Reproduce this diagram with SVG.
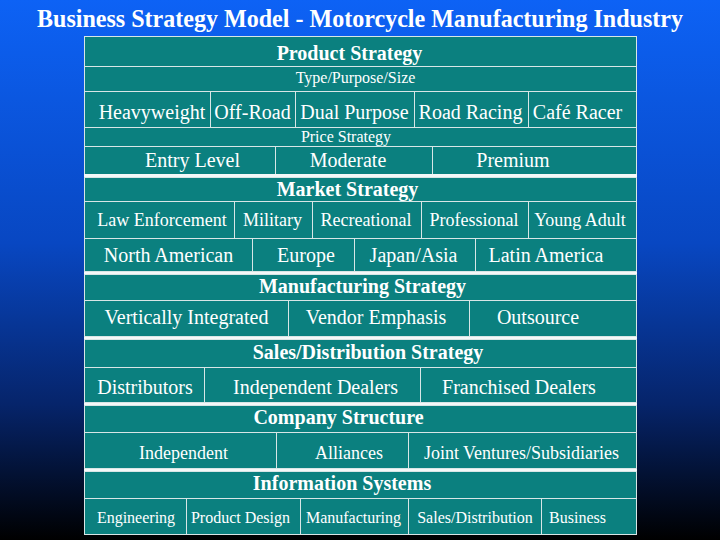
<svg xmlns="http://www.w3.org/2000/svg" width="720" height="540" viewBox="0 0 720 540">
<defs>
<linearGradient id="bg" x1="0" y1="0" x2="0" y2="1">
<stop offset="0" stop-color="#0d62f5"/>
<stop offset="0.45" stop-color="#0847c2"/>
<stop offset="0.75" stop-color="#06246a"/>
<stop offset="1" stop-color="#000000"/>
</linearGradient>
<style>
.c{fill:#0b807f;stroke:#d8e6e6;stroke-width:1}
.sep{fill:#f4f8f8}
text{font-family:"Liberation Serif","Times New Roman",serif;fill:#ffffff;text-anchor:middle}
.h{font-weight:bold;font-size:20px}
.t{font-size:20px}
.m{font-size:18px}
.s{font-size:16px}
.title{font-weight:bold;font-size:25px}
</style>
</defs>
<rect x="0" y="0" width="720" height="540" fill="url(#bg)"/>
<text class="title" x="360" y="27" textLength="646" lengthAdjust="spacingAndGlyphs">Business Strategy Model - Motorcycle Manufacturing Industry</text>

<g id="product-strategy">
<rect class="c" x="84.5" y="36.5" width="552" height="30"/>
<text class="h" x="349.5" y="60">Product Strategy</text>
<rect class="c" x="84.5" y="66.5" width="552" height="25"/>
<text class="s" x="355.5" y="83" font-size="15">Type/Purpose/Size</text>
<rect class="c" x="84.5" y="91.5" width="126" height="36"/>
<rect class="c" x="210.5" y="91.5" width="85" height="36"/>
<rect class="c" x="295.5" y="91.5" width="119" height="36"/>
<rect class="c" x="414.5" y="91.5" width="114" height="36"/>
<rect class="c" x="528.5" y="91.5" width="108" height="36"/>
<text class="t" x="152" y="119">Heavyweight</text>
<text class="t" x="252.5" y="119">Off-Road</text>
<text class="t" x="354.5" y="119">Dual Purpose</text>
<text class="t" x="470.5" y="119">Road Racing</text>
<text class="t" x="577.5" y="119">Café Racer</text>
<rect class="c" x="84.5" y="127.5" width="552" height="19"/>
<text class="s" x="346" y="142">Price Strategy</text>
<rect class="c" x="84.5" y="146.5" width="191" height="28"/>
<rect class="c" x="275.5" y="146.5" width="157" height="28"/>
<rect class="c" x="432.5" y="146.5" width="204" height="28"/>
<text class="t" x="192.5" y="166.5">Entry Level</text>
<text class="t" x="348" y="166.5">Moderate</text>
<text class="t" x="513" y="166.5">Premium</text>
</g>

<g id="connectors">
<rect class="sep" x="84" y="174" width="553" height="3"/>
<rect class="sep" x="84" y="271" width="553" height="3"/>
<rect class="sep" x="84" y="336" width="553" height="3"/>
<rect class="sep" x="84" y="402" width="553" height="3"/>
<rect class="sep" x="84" y="468" width="553" height="3"/>
</g>

<g id="market-strategy">
<rect class="c" x="84.5" y="177.5" width="552" height="24"/>
<text class="h" x="347.5" y="196">Market Strategy</text>
<rect class="c" x="84.5" y="201.5" width="150" height="37"/>
<rect class="c" x="234.5" y="201.5" width="78" height="37"/>
<rect class="c" x="312.5" y="201.5" width="109" height="37"/>
<rect class="c" x="421.5" y="201.5" width="107" height="37"/>
<rect class="c" x="528.5" y="201.5" width="108" height="37"/>
<text class="m" x="162" y="226">Law Enforcement</text>
<text class="m" x="272.5" y="226">Military</text>
<text class="m" x="366" y="226">Recreational</text>
<text class="m" x="474" y="226">Professional</text>
<text class="m" x="580" y="226">Young Adult</text>
<rect class="c" x="84.5" y="238.5" width="168" height="33"/>
<rect class="c" x="252.5" y="238.5" width="102" height="33"/>
<rect class="c" x="354.5" y="238.5" width="121" height="33"/>
<rect class="c" x="475.5" y="238.5" width="161" height="33"/>
<text class="t" x="168.5" y="261.5">North American</text>
<text class="t" x="306" y="261.5">Europe</text>
<text class="t" x="413.5" y="261.5">Japan/Asia</text>
<text class="t" x="546" y="261.5">Latin America</text>
</g>

<g id="manufacturing-strategy">
<rect class="c" x="84.5" y="274.5" width="552" height="26"/>
<text class="h" x="362.5" y="292.5">Manufacturing Strategy</text>
<rect class="c" x="84.5" y="300.5" width="204" height="36"/>
<rect class="c" x="288.5" y="300.5" width="181" height="36"/>
<rect class="c" x="469.5" y="300.5" width="167" height="36"/>
<text class="t" x="186.5" y="323.5">Vertically Integrated</text>
<text class="t" x="376" y="323.5">Vendor Emphasis</text>
<text class="t" x="538" y="323.5">Outsource</text>
</g>

<g id="sales-distribution-strategy">
<rect class="c" x="84.5" y="339.5" width="552" height="28"/>
<text class="h" x="368" y="358.5">Sales/Distribution Strategy</text>
<rect class="c" x="84.5" y="367.5" width="120" height="35"/>
<rect class="c" x="204.5" y="367.5" width="216" height="35"/>
<rect class="c" x="420.5" y="367.5" width="216" height="35"/>
<text class="t" x="145" y="393.5">Distributors</text>
<text class="t" x="315.5" y="393.5">Independent Dealers</text>
<text class="t" x="519" y="393.5">Franchised Dealers</text>
</g>

<g id="company-structure">
<rect class="c" x="84.5" y="405.5" width="552" height="27"/>
<text class="h" x="338.5" y="423.5">Company Structure</text>
<rect class="c" x="84.5" y="432.5" width="192" height="36"/>
<rect class="c" x="276.5" y="432.5" width="132" height="36"/>
<rect class="c" x="408.5" y="432.5" width="228" height="36"/>
<text class="m" x="183.5" y="459">Independent</text>
<text class="m" x="349" y="459">Alliances</text>
<text class="m" x="521.5" y="459">Joint Ventures/Subsidiaries</text>
</g>

<g id="information-systems">
<rect class="c" x="84.5" y="471.5" width="552" height="27"/>
<text class="h" x="342" y="490">Information Systems</text>
<rect class="c" x="84.5" y="498.5" width="102" height="36"/>
<rect class="c" x="186.5" y="498.5" width="114" height="36"/>
<rect class="c" x="300.5" y="498.5" width="108" height="36"/>
<rect class="c" x="408.5" y="498.5" width="133" height="36"/>
<rect class="c" x="541.5" y="498.5" width="95" height="36"/>
<text class="s" x="136" y="523">Engineering</text>
<text class="s" x="240.5" y="523">Product Design</text>
<text class="s" x="353.5" y="523">Manufacturing</text>
<text class="s" x="475" y="523">Sales/Distribution</text>
<text class="s" x="577.5" y="523">Business</text>
</g>
</svg>
